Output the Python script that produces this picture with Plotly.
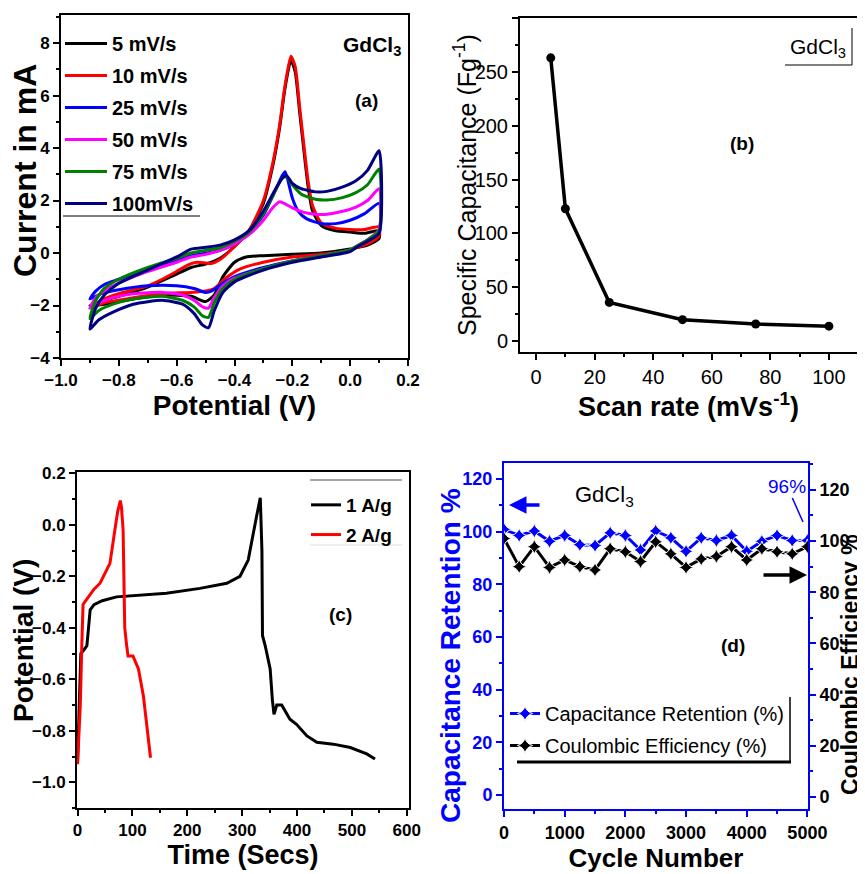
import plotly.graph_objects as go

W, H = 865, 874
FONT = "Liberation Sans, Arial, sans-serif"

# ---------------- (a) cyclic voltammetry ----------------
scan_labels = ["5 mV/s", "10 mV/s", "25 mV/s", "50 mV/s", "75 mV/s", "100mV/s"]
scan_colors = ["#000000", "#ff0000", "#0000ff", "#ff00ff", "#008000", "#000080"]

cv5_E = [-0.9, -0.85, -0.8, -0.7, -0.65, -0.6, -0.55, -0.5, -0.45, -0.4, -0.35, -0.3, -0.27, -0.245, -0.225, -0.205, -0.19, -0.175, -0.16, -0.145, -0.13, -0.1, -0.05, 0.0, 0.05, 0.1,
         0.1, 0.06, 0.02, 0.0, -0.1, -0.2, -0.3, -0.36, -0.4, -0.44, -0.47, -0.5, -0.55, -0.65, -0.75, -0.85, -0.9]
cv5_I = [-2.0, -1.8, -1.65, -1.3, -1.05, -0.8, -0.55, -0.42, -0.2, 0.25, 0.85, 1.9, 3.2, 4.7, 6.3, 7.35, 6.9, 5.4, 3.9, 2.5, 1.6, 1.05, 0.85, 0.8, 0.75, 0.85,
         0.55, 0.3, 0.2, 0.15, 0.0, -0.05, -0.1, -0.15, -0.35, -0.9, -1.6, -1.85, -1.65, -1.6, -1.75, -1.95, -2.0]

cv10_E = [-0.9, -0.85, -0.8, -0.7, -0.65, -0.6, -0.56, -0.53, -0.5, -0.48, -0.45, -0.4, -0.35, -0.3, -0.27, -0.245, -0.225, -0.205, -0.19, -0.175, -0.16, -0.145, -0.13, -0.1, -0.05, 0.0, 0.05, 0.1,
          0.1, 0.06, 0.02, 0.0, -0.1, -0.2, -0.3, -0.38, -0.43, -0.47, -0.5, -0.55, -0.65, -0.75, -0.85, -0.9]
cv10_I = [-2.1, -1.75, -1.55, -1.25, -1.0, -0.7, -0.45, -0.35, -0.38, -0.4, -0.25, 0.25, 0.85, 2.0, 3.3, 4.8, 6.4, 7.5, 7.1, 5.6, 4.1, 2.7, 1.8, 1.15, 0.95, 0.9, 0.9, 1.0,
          0.65, 0.35, 0.2, 0.1, -0.05, -0.15, -0.35, -0.6, -0.95, -1.35, -1.45, -1.5, -1.55, -1.7, -1.9, -2.1]

cv25_E = [-0.9, -0.88, -0.85, -0.8, -0.7, -0.6, -0.55, -0.5, -0.45, -0.4, -0.35, -0.3, -0.26, -0.235, -0.225, -0.215, -0.2, -0.18, -0.15, -0.1, -0.05, 0.0, 0.05, 0.1,
          0.1, 0.06, 0.02, 0.0, -0.1, -0.2, -0.3, -0.4, -0.44, -0.48, -0.5, -0.54, -0.6, -0.7, -0.8, -0.86, -0.9]
cv25_I = [-1.75, -1.45, -1.2, -1.0, -0.6, -0.3, -0.1, 0.0, 0.1, 0.35, 0.75, 1.45, 2.35, 2.95, 3.1, 2.75, 2.1, 1.6, 1.3, 1.12, 1.12, 1.25, 1.5, 1.9,
          0.8, 0.5, 0.22, 0.1, -0.1, -0.3, -0.55, -0.9, -1.15, -1.45, -1.5, -1.35, -1.25, -1.25, -1.4, -1.55, -1.75]

cv50_E = [-0.9, -0.88, -0.85, -0.8, -0.7, -0.6, -0.55, -0.5, -0.45, -0.4, -0.35, -0.3, -0.27, -0.245, -0.23, -0.2, -0.16, -0.12, -0.08, -0.03, 0.02, 0.06, 0.1,
          0.1, 0.06, 0.02, 0.0, -0.1, -0.2, -0.3, -0.4, -0.44, -0.47, -0.49, -0.51, -0.54, -0.58, -0.65, -0.75, -0.82, -0.87, -0.9]
cv50_I = [-2.1, -1.7, -1.45, -1.15, -0.7, -0.35, -0.15, -0.05, 0.1, 0.35, 0.7, 1.25, 1.7, 1.95, 1.9, 1.72, 1.55, 1.48, 1.48, 1.58, 1.75, 2.0, 2.45,
          0.9, 0.5, 0.25, 0.12, -0.1, -0.3, -0.6, -0.95, -1.25, -1.7, -2.1, -2.05, -1.8, -1.6, -1.5, -1.55, -1.7, -1.9, -2.1]

cv75_E = [-0.9, -0.88, -0.85, -0.8, -0.7, -0.6, -0.55, -0.5, -0.45, -0.4, -0.35, -0.3, -0.26, -0.235, -0.22, -0.2, -0.17, -0.12, -0.08, -0.03, 0.02, 0.06, 0.1,
          0.1, 0.06, 0.02, 0.0, -0.1, -0.2, -0.3, -0.4, -0.44, -0.47, -0.49, -0.51, -0.54, -0.58, -0.65, -0.75, -0.82, -0.87, -0.9]
cv75_I = [-2.5, -1.8, -1.35, -1.0, -0.55, -0.2, 0.0, 0.1, 0.2, 0.45, 0.8, 1.5, 2.35, 2.85, 2.9, 2.6, 2.25, 2.05, 2.02, 2.1, 2.3, 2.6, 3.2,
          0.85, 0.5, 0.25, 0.12, -0.1, -0.3, -0.6, -1.0, -1.35, -1.9, -2.45, -2.4, -2.05, -1.8, -1.65, -1.75, -1.95, -2.2, -2.5]

cv100_E = [-0.9, -0.88, -0.85, -0.8, -0.7, -0.6, -0.55, -0.5, -0.45, -0.4, -0.35, -0.3, -0.26, -0.235, -0.22, -0.2, -0.17, -0.12, -0.08, -0.03, 0.02, 0.06, 0.1,
           0.1, 0.06, 0.02, 0.0, -0.1, -0.2, -0.3, -0.4, -0.44, -0.47, -0.49, -0.51, -0.54, -0.58, -0.65, -0.75, -0.82, -0.87, -0.9]
cv100_I = [-2.9, -2.1, -1.6, -1.15, -0.65, -0.15, 0.15, 0.22, 0.3, 0.5, 0.85, 1.6, 2.4, 2.85, 2.95, 2.65, 2.45, 2.33, 2.35, 2.5, 2.75, 3.15, 3.9,
           0.75, 0.45, 0.2, 0.05, -0.15, -0.35, -0.65, -1.1, -1.5, -2.2, -2.85, -2.75, -2.3, -1.95, -1.8, -1.95, -2.25, -2.55, -2.9]

cv_E = [cv5_E, cv10_E, cv25_E, cv50_E, cv75_E, cv100_E]
cv_I = [cv5_I, cv10_I, cv25_I, cv50_I, cv75_I, cv100_I]

# ---------------- (b) specific capacitance ----------------
scan_rate = [5, 10, 25, 50, 75, 100]
spec_cap = [263, 123, 36, 20, 16, 14]

# ---------------- (c) charge-discharge ----------------
gcd_labels = ["1 A/g", "2 A/g"]
t_1 = [0, 3, 6, 10, 17, 20, 23, 30, 45, 71, 120, 162, 223, 272, 296, 311, 326, 333, 336, 337, 342, 351, 355, 358, 363, 372, 387, 399, 418, 436, 466, 497, 527, 542]
v_1 = [-0.92, -0.7, -0.5, -0.49, -0.47, -0.4, -0.33, -0.31, -0.295, -0.28, -0.272, -0.266, -0.247, -0.227, -0.2, -0.137, 0.03, 0.105, -0.1, -0.43, -0.47, -0.56, -0.68, -0.736, -0.7, -0.7, -0.755, -0.775, -0.82, -0.845, -0.852, -0.865, -0.89, -0.91]
t_2 = [0, 5, 8, 10, 13, 20, 30, 41, 50, 59, 68, 73, 78, 80, 83, 84, 86, 89, 92, 101, 111, 120, 126, 133]
v_2 = [-0.93, -0.7, -0.45, -0.31, -0.3, -0.28, -0.25, -0.227, -0.19, -0.15, -0.02, 0.05, 0.094, 0.07, -0.02, -0.25, -0.4, -0.46, -0.51, -0.51, -0.56, -0.665, -0.77, -0.905]

# ---------------- (d) cycling stability ----------------
cycles = [0, 250, 500, 750, 1000, 1250, 1500, 1750, 2000, 2250, 2500, 2750, 3000, 3250, 3500, 3750, 4000, 4250, 4500, 4750, 5000]
retention = [100.8, 98.5, 100.2, 96.3, 98.5, 95.0, 94.7, 99.5, 98.5, 93.0, 100.2, 97.6, 92.5, 97.6, 96.6, 98.5, 92.5, 96.3, 98.5, 96.6, 96.6]
coulombic = [101.0, 90.0, 97.8, 89.7, 92.6, 90.0, 88.7, 97.0, 95.8, 92.0, 99.7, 95.0, 89.7, 93.0, 94.0, 97.8, 92.6, 97.0, 95.8, 95.0, 97.8]

OFF = 8  # page body margin


def px(x):
    return (x - OFF) / W


def py(y):
    return 1 - (y - OFF) / H


fig = go.Figure()

for i in range(len(scan_labels)):
    fig.add_trace(go.Scatter(
        x=cv_E[i], y=cv_I[i], mode="lines", name=scan_labels[i],
        line=dict(color=scan_colors[i], width=3, shape="spline", smoothing=0.6),
        xaxis="x", yaxis="y", legend="legend", legendgroup="cv%d" % i))

fig.add_trace(go.Scatter(
    x=scan_rate, y=spec_cap, mode="lines+markers", showlegend=False,
    line=dict(color="black", width=3.5), marker=dict(color="black", size=9),
    xaxis="x2", yaxis="y2"))

fig.add_trace(go.Scatter(
    x=t_1, y=v_1, mode="lines", name=gcd_labels[0],
    line=dict(color="black", width=3), xaxis="x3", yaxis="y3", legend="legend2", legendgroup="g1"))
fig.add_trace(go.Scatter(
    x=t_2, y=v_2, mode="lines", name=gcd_labels[1],
    line=dict(color="#ff0000", width=3), xaxis="x3", yaxis="y3", legend="legend2", legendgroup="g2"))

fig.add_trace(go.Scatter(
    x=cycles, y=retention, mode="lines+markers", name="Capacitance Retention (%)",
    line=dict(color="#0000ff", width=3),
    marker=dict(symbol="star-diamond", size=11, color="#0000ff", line=dict(color="white", width=1)),
    xaxis="x4", yaxis="y4", legend="legend3", legendgroup="d1"))
fig.add_trace(go.Scatter(
    x=cycles, y=coulombic, mode="lines+markers", name="Coulombic Efficiency (%)",
    line=dict(color="black", width=3),
    marker=dict(symbol="star-diamond", size=11, color="black", line=dict(color="white", width=1)),
    xaxis="x4", yaxis="y5", legend="legend3", legendgroup="d2"))


def axis(domain, rng, dtick, mdtick, fmt=None, tsize=17, bold=True, color="black", lcolor="black", title=None, tfont=24, tbold=True, tcolor="black", standoff=4, **kw):
    d = dict(
        domain=domain, range=rng, dtick=dtick, tick0=0, showgrid=False, zeroline=False,
        automargin=False,
        showline=True, linewidth=2, linecolor=lcolor, mirror=True,
        ticks="outside", ticklen=6, tickwidth=2, tickcolor=lcolor,
        minor=dict(dtick=mdtick, ticks="outside", ticklen=3, tickwidth=1.5, tickcolor=lcolor, showgrid=False),
        tickfont=dict(family=FONT, size=tsize, color=color, weight="bold" if bold else "normal"),
    )
    if fmt:
        d["tickformat"] = fmt
    if title:
        d["title"] = dict(text=title, standoff=standoff,
                          font=dict(family=FONT, size=tfont, color=tcolor, weight="bold" if tbold else "normal"))
    d.update(kw)
    return d


fig.update_layout(
    template="none",
    width=W, height=H, margin=dict(l=0, r=0, t=0, b=0, autoexpand=False),
    paper_bgcolor="white", plot_bgcolor="white",
    font=dict(family=FONT, color="black"),
    xaxis=axis([px(61), px(408)], [-1.0, 0.2], 0.2, 0.1, fmt=".1f", title="Potential (V)", tfont=28, standoff=2),
    yaxis=axis([py(358), py(15)], [-4, 9.07], 2, 1),
    xaxis2=axis([px(520), px(857)], [-5.5, 109.6], 20, 10, tsize=20, bold=False, title="Scan rate (mVs<sup>-1</sup>)", tfont=27, standoff=1),
    yaxis2=axis([py(352), py(18)], [-10, 300], 50, 25, tsize=20, bold=False),
    xaxis3=axis([px(77), px(409)], [-1, 604], 100, 50, title="Time (Secs)", tfont=27, standoff=2),
    yaxis3=axis([py(808), py(472)], [-1.1, 0.205], 0.2, 0.1, fmt=".1f"),
    xaxis4=axis([px(504), px(808)], [0, 5010], 1000, 500, tsize=18, lcolor="#0000ff", title="Cycle Number", tfont=26, standoff=2),
    yaxis4=axis([py(809), py(463)], [-5.3, 126], 20, 10, tsize=18, color="#0000ff", lcolor="#0000ff", anchor="x4"),
    yaxis5=axis([py(809), py(463)], [-4.7, 130.5], 20, 10, tsize=18, lcolor="#0000ff",
                overlaying="y4", side="right", anchor="x4"),
    legend=dict(x=px(60), y=py(24), xanchor="left", yanchor="top", bgcolor="rgba(0,0,0,0)",
                font=dict(family=FONT, size=20, weight="bold"), tracegroupgap=3, traceorder="grouped",
                itemwidth=42),
    legend2=dict(x=px(306), y=py(486), xanchor="left", yanchor="top", bgcolor="rgba(0,0,0,0)",
                 font=dict(family=FONT, size=19, weight="bold"), tracegroupgap=2, traceorder="grouped",
                 itemwidth=30),
    legend3=dict(x=px(505), y=py(694), xanchor="left", yanchor="top", bgcolor="rgba(0,0,0,0)",
                 font=dict(family=FONT, size=20), tracegroupgap=3, traceorder="grouped",
                 itemwidth=30),
)
fig.layout.xaxis2.anchor = "y2"
fig.layout.yaxis2.anchor = "x2"
fig.layout.xaxis3.anchor = "y3"
fig.layout.yaxis3.anchor = "x3"
fig.layout.xaxis4.anchor = "y4"
fig.layout.yaxis5.mirror = False
fig.layout.yaxis4.mirror = False

# vertical axis titles
ytitles = [
    dict(x=25, y=171, text="Current in mA", size=32, bold=True, color="black"),
    dict(x=465, y=185, text="Specific Capacitance (Fg<sup>-1</sup>)", size=25, bold=False, color="black"),
    dict(x=23, y=641, text="Potential (V)", size=28, bold=True, color="black"),
    dict(x=450, y=655, text="Capacitance Retention %", size=28, bold=True, color="#0000ff"),
    dict(x=850, y=665, text="Coulombic Efficiency %", size=23, bold=True, color="black"),
]
for a in ytitles:
    fig.add_annotation(x=px(a["x"]), y=py(a["y"]), xref="paper", yref="paper", text=a["text"],
                       showarrow=False, textangle=-90, xanchor="center", yanchor="middle",
                       font=dict(family=FONT, size=a["size"], color=a["color"],
                                 weight="bold" if a["bold"] else "normal"))

annots = [
    dict(x=372, y=46, text="<b>GdCl<sub>3</sub></b>", size=21, color="black"),
    dict(x=366, y=100, text="<b>(a)</b>", size=19, color="black"),
    dict(x=818, y=48, text="GdCl<sub>3</sub>", size=21, color="black"),
    dict(x=742, y=143, text="<b>(b)</b>", size=19, color="black"),
    dict(x=340, y=614, text="<b>(c)</b>", size=19, color="black"),
    dict(x=604, y=496, text="GdCl<sub>3</sub>", size=22, color="black"),
    dict(x=733, y=645, text="<b>(d)</b>", size=19, color="black"),
]
for a in annots:
    fig.add_annotation(x=px(a["x"]), y=py(a["y"]), xref="paper", yref="paper", text=a["text"], showarrow=False,
                       xanchor="center", yanchor="middle",
                       font=dict(family=FONT, size=a["size"], color=a["color"]))

# 96% label with pointer line
fig.add_annotation(x=px(803), y=py(522), xref="paper", yref="paper", text="96%", showarrow=True,
                   arrowhead=0, arrowwidth=1.5, arrowcolor="#0000ff", ax=-16, ay=-36,
                   font=dict(family=FONT, size=19, color="#0000ff"))
# axis arrows
fig.add_annotation(x=px(509), y=py(505), xref="paper", yref="paper", text="", showarrow=True,
                   arrowhead=2, arrowsize=1, arrowwidth=3.5, arrowcolor="#0000ff", ax=32, ay=0)
fig.add_annotation(x=px(807), y=py(575), xref="paper", yref="paper", text="", showarrow=True,
                   arrowhead=2, arrowsize=1, arrowwidth=3.5, arrowcolor="black", ax=-45, ay=0)

shapes = [
    dict(x0=63, x1=200, y0=216, y1=216, color="black", width=1),
    dict(x0=785, x1=852, y0=65, y1=65, color="black", width=1),
    dict(x0=852, x1=852, y0=28, y1=65, color="black", width=1),
    dict(x0=310, x1=402, y0=480, y1=480, color="#888888", width=1.5),
    dict(x0=310, x1=402, y0=545, y1=545, color="#dddddd", width=1),
    dict(x0=790, x1=790, y0=697, y1=763, color="black", width=1.5),
    dict(x0=517, x1=791, y0=762, y1=762, color="black", width=3),
]
for s in shapes:
    fig.add_shape(type="line", xref="paper", yref="paper", x0=px(s["x0"]), x1=px(s["x1"]),
                  y0=py(s["y0"]), y1=py(s["y1"]), line=dict(color=s["color"], width=s["width"]))

fig.write_html("out.html")
